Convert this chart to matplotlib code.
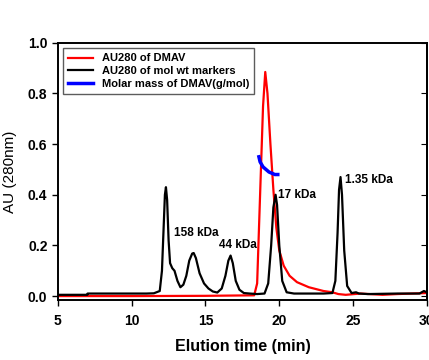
import matplotlib
matplotlib.use("Agg")
import matplotlib.pyplot as plt

plt.rcParams["font.family"] = ["Liberation Sans", "DejaVu Sans"]

# black trace: AU280 of molecular weight markers
marker_time = [5, 7, 7.01, 11.0, 11.5, 11.9, 12.05, 12.15, 12.25, 12.32, 12.4, 12.5, 12.6,
               12.75, 12.9, 13.1, 13.3, 13.5, 13.7, 13.9, 14.1, 14.2, 14.35, 14.6, 14.9,
               15.2, 15.5, 15.8, 16.1, 16.35, 16.55, 16.7, 16.85, 17.05, 17.3, 17.6, 18.0,
               18.5, 19.0, 19.25, 19.45, 19.6, 19.75, 19.85, 20.0, 20.2, 20.5, 21, 22, 23,
               23.6, 23.8, 23.95, 24.05, 24.15, 24.25, 24.4, 24.6, 24.9, 25.2, 25.4, 26, 28,
               29.5, 29.8, 30]
marker_au = [0.005, 0.005, 0.01, 0.01, 0.011, 0.02, 0.10, 0.25, 0.40, 0.43, 0.38, 0.22, 0.13,
             0.11, 0.10, 0.06, 0.035, 0.045, 0.08, 0.14, 0.168, 0.17, 0.15, 0.09, 0.05,
             0.03, 0.018, 0.014, 0.03, 0.08, 0.14, 0.16, 0.13, 0.06, 0.025, 0.012, 0.01,
             0.008, 0.01, 0.05, 0.20, 0.35, 0.40, 0.36, 0.20, 0.06, 0.015, 0.01, 0.01, 0.01,
             0.012, 0.06, 0.25, 0.42, 0.47, 0.40, 0.18, 0.04, 0.012, 0.015, 0.01, 0.008, 0.01,
             0.01, 0.02, 0.015]

# red trace: AU280 of DMAV
dmav_time = [5, 10, 15, 18.3, 18.5, 18.7, 18.9, 19.05, 19.2, 19.4, 19.6, 19.8, 20.0, 20.3,
             20.7, 21.2, 22, 23, 23.6, 24, 24.5, 25.5, 27, 28, 30]
dmav_au = [0.0, 0.0, 0.001, 0.003, 0.05, 0.40, 0.75, 0.885, 0.80, 0.60, 0.42, 0.27, 0.18, 0.12,
           0.08, 0.055, 0.035, 0.02, 0.015, 0.008, 0.005, 0.01, 0.005, 0.008, 0.012]

# blue trace: molar mass of DMAV (plotted on AU scale)
molar_time = [18.62, 18.7, 18.9, 19.1, 19.3, 19.5, 19.7, 19.9]
molar_au = [0.55, 0.53, 0.51, 0.50, 0.49, 0.485, 0.48, 0.48]

peak_labels = ["158 kDa", "44 kDa", "17 kDa", "1.35 kDa"]
label_x = [12.85, 15.9, 19.9, 24.45]
label_y = [0.25, 0.20, 0.40, 0.46]

fig = plt.figure(figsize=(4.29, 3.6), dpi=100)
ax = fig.add_axes([0.135, 0.167, 0.860, 0.714])

ax.plot(dmav_time, dmav_au, color="#ff0000", lw=1.6, label="AU280 of DMAV")
ax.plot(marker_time, marker_au, color="#000000", lw=1.6, label="AU280 of mol wt markers")
ax.plot(molar_time, molar_au, color="#0000ff", lw=2.5, label="Molar mass of DMAV(g/mol)")

for txt, x, y in zip(peak_labels, label_x, label_y):
    ax.text(x, y, txt, fontsize=8.5, fontweight="bold", ha="left", va="center")

ax.set_xlim(5, 30)
ax.set_ylim(-0.015, 1.0)
ax.set_xticks([5, 10, 15, 20, 25, 30])
ax.set_yticks([0.0, 0.2, 0.4, 0.6, 0.8, 1.0])
ax.set_yticklabels(["0.0", "0.2", "0.4", "0.6", "0.8", "1.0"])
for lbl in ax.get_xticklabels() + ax.get_yticklabels():
    lbl.set_fontweight("bold")
ax.tick_params(labelsize=10, length=4, width=1, direction="out")
ax.tick_params(axis="x", pad=6)

right = ax.secondary_yaxis("right")
right.set_yticks([0.0, 0.2, 0.4, 0.6, 0.8, 1.0])
right.tick_params(direction="in", length=4, labelright=False)

for s in ax.spines.values():
    s.set_linewidth(1.4)
right.spines["right"].set_linewidth(1.4)

ax.set_xlabel("Elution time (min)", fontsize=11.5, fontweight="bold", labelpad=8)
ax.set_ylabel("AU (280nm)", fontsize=11, labelpad=8)

leg = ax.legend(loc="upper left", frameon=True, fancybox=False,
                handlelength=2.2, borderpad=0.45, labelspacing=0.25,
                bbox_to_anchor=(0.0, 1.0), prop={"weight": "bold", "size": 8})
leg.get_frame().set_edgecolor("#333333")
leg.get_frame().set_linewidth(1.0)

fig.savefig("out.png", dpi=100)
